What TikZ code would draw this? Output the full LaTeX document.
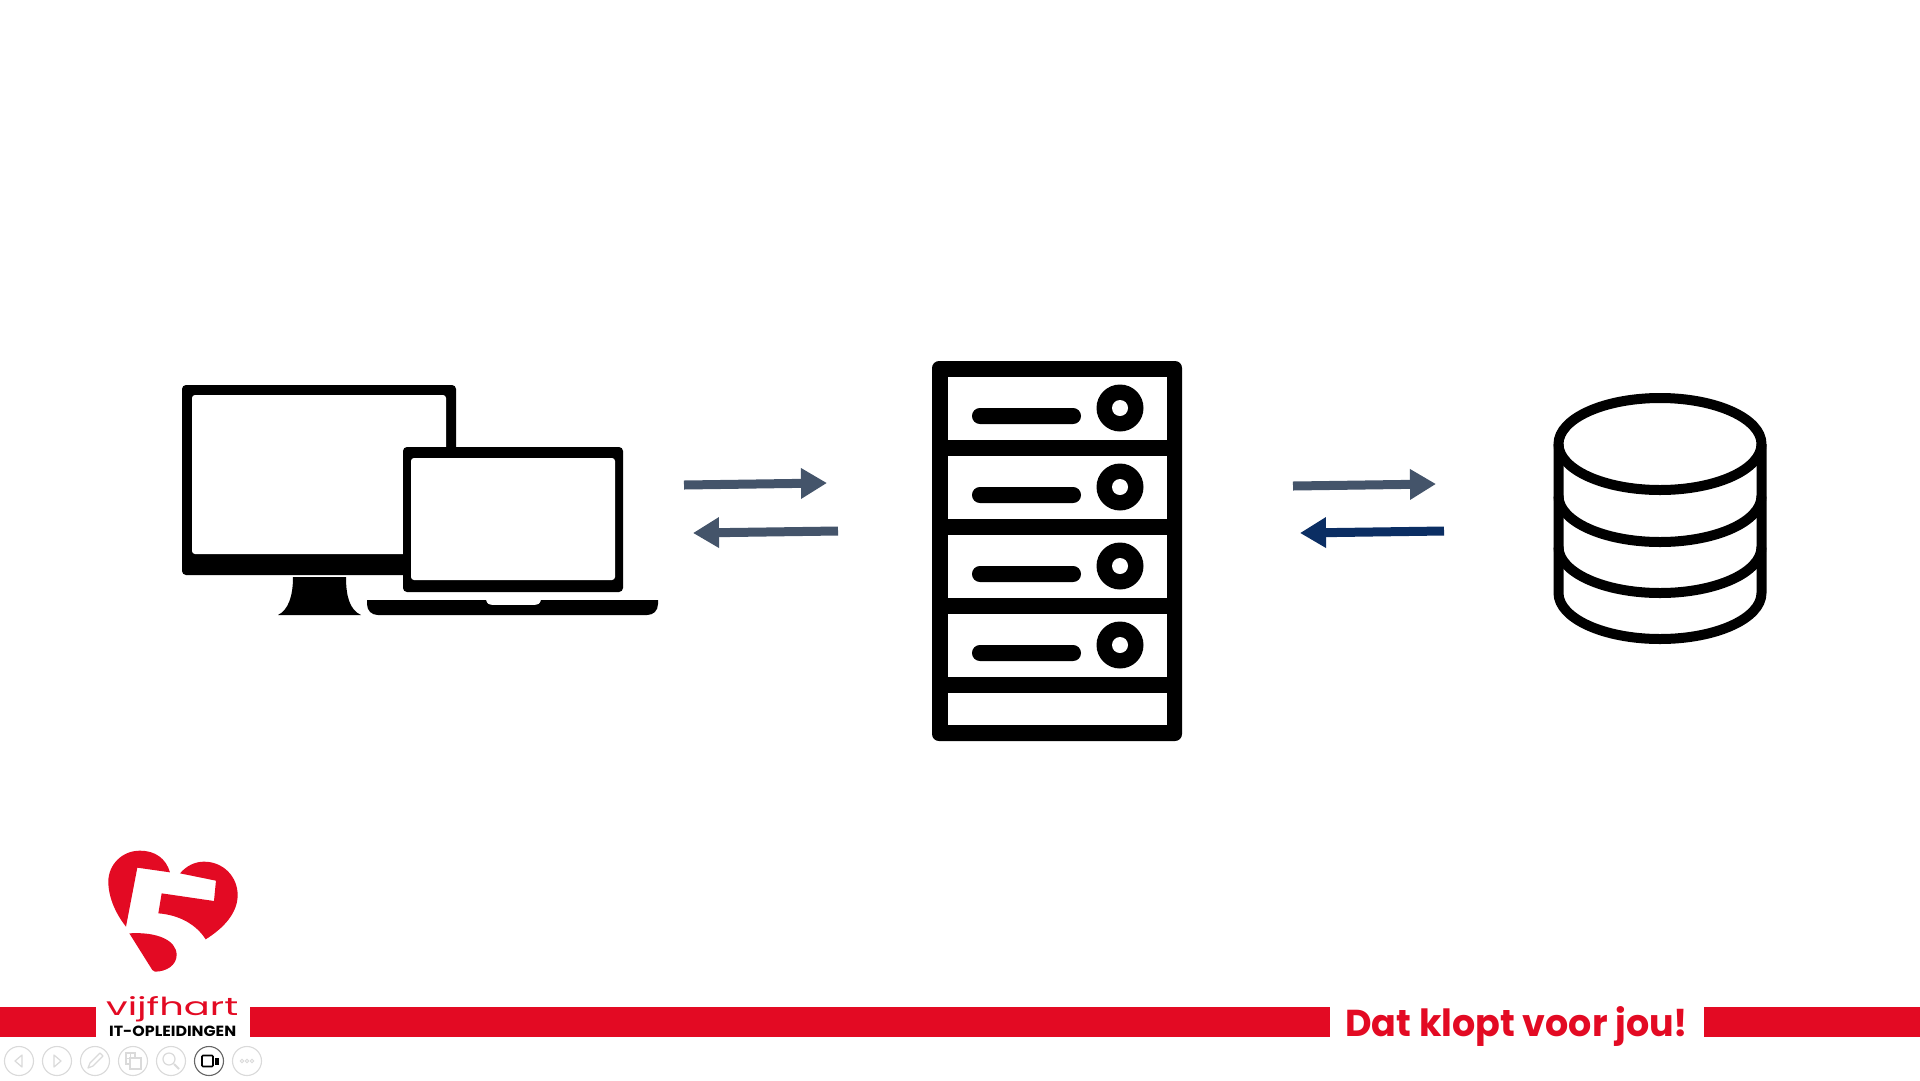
\documentclass[tikz,border=0pt]{standalone}
\usepackage{fontspec}
\usetikzlibrary{arrows.meta}
\setmainfont{Liberation Sans}
\newfontfamily\brand{Poppins}
\definecolor{vred}{HTML}{E30A23}
\definecolor{slate}{HTML}{44546A}
\definecolor{navy}{HTML}{0B2E63}
\definecolor{tbgrey}{HTML}{DADADA}
\tikzset{
  shell/.style={fill=black,rounded corners=#1},
  hole/.style={fill=white,rounded corners=#1},
  blackline/.style={draw=black,line width=10pt,line join=round},
  flow/.style={line width=9pt,-{Triangle[length=26pt,width=29pt]}},
  tbtn/.style={draw=tbgrey,line width=1.1pt},
  tbicon/.style={draw=tbgrey,line width=1.2pt},
  band/.style={fill=vred}
}
\begin{document}
\begin{tikzpicture}[x=1pt,y=-1pt]
\useasboundingbox (0,0) rectangle (1920,1080);
\fill[white] (0,0) rectangle (1920,1080);

% desktop monitor
\path[shell=4pt] (182,385) rectangle (456,575);
\path[hole=3pt] (192,395) rectangle (446,554);
\fill[black] (293,577) -- (346,577) .. controls (346,597) and (350,610) .. (361,615) -- (278,615) .. controls (288,610) and (293,597) .. (293,577) -- cycle;
% laptop
\path[shell=4pt] (403,447) rectangle (623,592);
\path[hole=3pt] (411,458) rectangle (615,580);
\fill[black] (367,600) -- (486,600) .. controls (487,604) and (489,605) .. (492,605) -- (535,605) .. controls (538,605) and (540,604) .. (541,600) -- (658,600) -- (658,604) .. controls (658,611) and (653,615) .. (647,615) -- (378,615) .. controls (372,615) and (367,611) .. (367,604) -- cycle;

% server rack
\path[shell=7pt] (932,361) rectangle (1182,741);
\foreach \rt/\rb in {377/440,456/519,535/598,614/677,693/725}
  \fill[white] (948,\rt) rectangle (1167,\rb);
\foreach \ro in {0,79,158,237}{
  \fill[black,rounded corners=7.9pt] (972,408+\ro) rectangle (1081,424+\ro);
  \fill[black] (1120,408+\ro) circle[radius=23.5pt];
  \fill[white] (1120,408+\ro) circle[radius=8pt];
}

% database
\draw[blackline] (1660,444) ellipse[x radius=101.5pt,y radius=46pt];
\draw[blackline] (1558.5,444) -- (1558.5,593) arc[start angle=180,end angle=360,x radius=101.5pt,y radius=46pt] -- (1761.5,444);
\draw[blackline] (1558.5,496) arc[start angle=180,end angle=360,x radius=101.5pt,y radius=46pt];
\draw[blackline] (1558.5,547) arc[start angle=180,end angle=360,x radius=101.5pt,y radius=46pt];

% connectors
\coordinate (a1s) at (684,485); \coordinate (a1e) at (827,483);
\coordinate (a2s) at (838,531); \coordinate (a2e) at (693,533);
\coordinate (a3s) at (1293,486); \coordinate (a3e) at (1436,484);
\coordinate (a4s) at (1444,531); \coordinate (a4e) at (1300,533);
\draw[flow,slate] (a1s) -- (a1e);
\draw[flow,slate] (a2s) -- (a2e);
\draw[flow,slate] (a3s) -- (a3e);
\draw[flow,navy] (a4s) -- (a4e);

% bottom band
\fill[band] (0,1007) rectangle (96,1037);
\fill[band] (250,1007) rectangle (1330,1037);
\fill[band] (1704,1007) rectangle (1920,1037);
\node[anchor=base west,inner sep=0pt,text=vred] (slogantext) at (1345,1036)
  {\resizebox{343pt}{30pt}{\brand\bfseries Dat klopt voor jou!}};

% logo heart
\begin{scope}[shift={(60,830)},x=0.3333pt,y=-0.3333pt]
\fill[vred] (198,290) -- (232,113) -- (330,127) .. controls (318,85) and (285,62) .. (240,62)
  .. controls (185,62) and (145,105) .. (145,155) .. controls (145,205) and (170,255) .. (198,290) -- cycle;
\fill[vred] (360,130) .. controls (380,107) and (405,95) .. (432,95) .. controls (490,95) and (533,140) .. (533,195)
  .. controls (533,250) and (490,295) .. (437,328) .. controls (410,285) and (360,255) .. (295,250)
  -- (305,190) -- (462,213) -- (468,152) -- cycle;
\fill[vred] (208,310) .. controls (290,305) and (350,330) .. (350,375) .. controls (350,405) and (320,425) .. (285,425)
  .. controls (281,425) and (279,423) .. (277,420) -- cycle;
\end{scope}
\node[anchor=base west,inner sep=0pt,text=vred] (brandname) at (106,1015)
  {\resizebox{132pt}{19pt}{\brand vijfhart}};
\node[anchor=base west,inner sep=0pt] (brandsub) at (109,1036)
  {\resizebox{127pt}{10.5pt}{\brand\bfseries IT-OPLEIDINGEN}};

% presenter toolbar
\foreach \cx in {19,57,95,133,171,247}
  \draw[tbtn] (\cx,1061) circle[radius=14.5pt];
\draw[draw=black!60,line width=1.1pt] (209,1061) circle[radius=14.5pt];
\draw[tbicon,line join=round] (22,1055) -- (15,1061) -- (22,1067) -- cycle;
\draw[tbicon,line join=round] (54,1055) -- (61,1061) -- (54,1067) -- cycle;
\draw[tbicon,line join=round] (88,1068) -- (90,1063) -- (100,1053) -- (103,1056) -- (93,1066) -- cycle;
\draw[tbicon] (126,1053) rectangle (135,1064);
\draw[tbicon] (130.5,1053) -- (130.5,1064) (126,1058.5) -- (135,1058.5);
\draw[tbicon,fill=white] (130,1058) rectangle (141,1069);
\draw[tbicon] (169,1059) circle[radius=6pt];
\draw[tbicon,line width=2pt] (174,1064) -- (179,1069);
\draw[black,line width=1.6pt,rounded corners=1pt] (202,1055.5) rectangle (213,1066.5);
\fill[black] (215,1057.5) rectangle (218.5,1064.5);
\foreach \dx in {-5,0,5}
  \draw[tbicon,line width=0.9pt] (247+\dx,1061) circle[radius=1.8pt];
\end{tikzpicture}
\end{document}
